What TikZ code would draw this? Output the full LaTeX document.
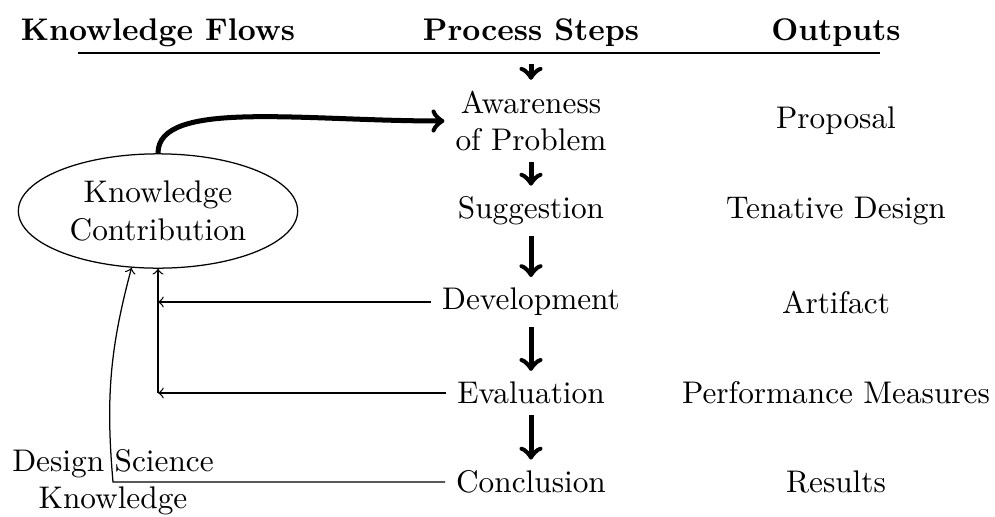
\documentclass[tikz,border=0pt]{standalone}
\usetikzlibrary{shapes.geometric}
\begin{document}
\begin{tikzpicture}[x=0.3195pt,y=-0.3195pt,
  head/.style={font=\bfseries,anchor=base},
  stepnode/.style={align=center},
  outnode/.style={align=center},
  flow/.style={->,ultra thick},
  feed/.style={->}]
\useasboundingbox (0,0) rectangle (995,516);

% column headings and rule
\node[head] (hk) at (158,40) {Knowledge Flows};
\node[head] (hp) at (531,40) {Process Steps};
\node[head] (ho) at (836,40) {Outputs};
\coordinate (rl) at (78,53);
\coordinate (rr) at (880,53);
\draw (rl) -- (rr);

% process steps
\node[stepnode] (aw) at (531,121) {Awareness\\of Problem};
\node[stepnode] (su) at (531,211) {Suggestion};
\node[stepnode] (de) at (531,302) {Development};
\node[stepnode] (ev) at (531,393) {Evaluation};
\node[stepnode] (co) at (531,482) {Conclusion};

% outputs
\node[outnode] (o1) at (836,121) {Proposal};
\node[outnode] (o2) at (836,211) {Tenative Design};
\node[outnode] (o3) at (836,302) {Artifact};
\node[outnode] (o4) at (836,393) {Performance Measures};
\node[outnode] (o5) at (836,482) {Results};

% knowledge contribution
\node[ellipse,draw,align=center] (kc) at (158,211) {Knowledge\\Contribution};

% main flow
\coordinate (start) at (531,64);
\draw[flow] (start) -- (aw.north);
\draw[flow] (aw.south) -- (su.north);
\draw[flow] (su.south) -- (de.north);
\draw[flow] (de.south) -- (ev.north);
\draw[flow] (ev.south) -- (co.north);
\draw[flow] (kc.north) .. controls +(0,-54) and +(-143,0) .. (aw.west);

% feedback into the knowledge contribution
\coordinate (cd) at (158,302);
\coordinate (ce) at (158,393);
\coordinate (cc) at (113,482);
\draw[feed] (de.west) -- (cd);
\draw[feed] (ev.west) -- (ce);
\draw[feed] (ce) -- (kc.south);
\draw[feed] (co.west) -- (cc) to[out=95,in=-105] (kc.245);
\node[align=center] (dsk) at (cc) {Design Science\\Knowledge};
\end{tikzpicture}
\end{document}
